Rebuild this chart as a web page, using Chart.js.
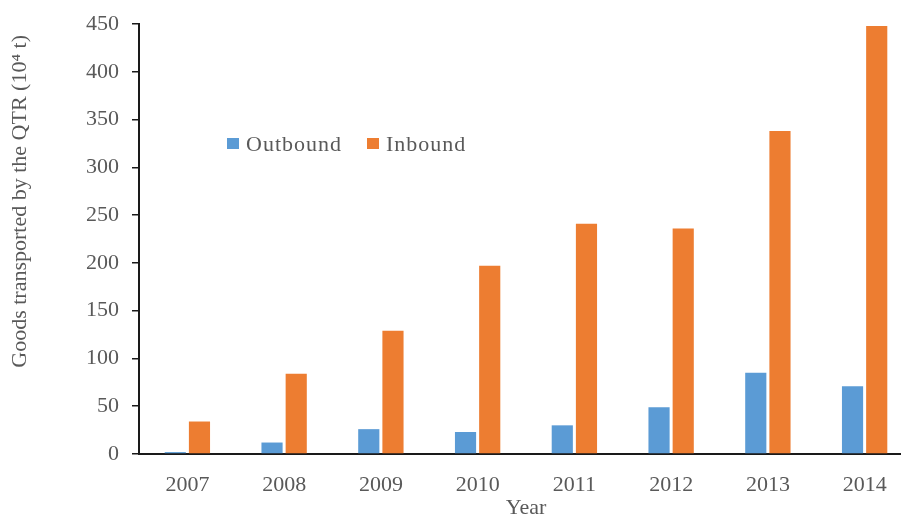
<!DOCTYPE html>
<html>
<head>
<meta charset="utf-8">
<script src="https://cdn.jsdelivr.net/npm/chart.js@4"></script>
<style>
  html, body { margin: 0; padding: 0; background: #fff; }
  #wrap { position: relative; width: 901px; height: 516px; overflow: hidden; }
  #legend { position: absolute; left: 227px; top: 131px; display: flex; gap: 25px; font: 22px/25px "Liberation Serif", serif; letter-spacing: 1px; color: #595959; }
  #legend span { display: flex; align-items: center; }
  #legend i { display: inline-block; width: 12px; height: 11px; margin-right: 7px; }
</style>
</head>
<body>
<div id="wrap">
  <canvas id="chart" width="913" height="516"></canvas>
  <div id="legend"></div>
</div>
<script>
  var YEARS = ['2007', '2008', '2009', '2010', '2011', '2012', '2013', '2014'];
  var OUTBOUND = [2, 12, 26, 23, 30, 49, 85, 71];
  var INBOUND = [34, 84, 129, 197, 241, 236, 338, 448];
  var SERIES = ['Outbound', 'Inbound'];
  var COLORS = ['#5B9BD5', '#ED7D31'];
  var Y_TITLE = 'Goods transported by the QTR (10\u2074 t)\u00a0\u00a0';
  var X_TITLE = 'Year';

  var FONT = {family: '"Liberation Serif", serif', size: 22, lineHeight: 1};
  var GREY = '#595959';
  var AXIS = '#1a1a1a';

  // Chart.js reserva 2x el padding de los ticks; el título compensa con padding negativo
  new Chart(document.getElementById('chart'), {
    type: 'bar',
    data: {
      labels: YEARS,
      datasets: [
        {label: SERIES[0], data: OUTBOUND, backgroundColor: COLORS[0], categoryPercentage: 0.5, barPercentage: 0.875},
        {label: SERIES[1], data: INBOUND, backgroundColor: COLORS[1], categoryPercentage: 0.5, barPercentage: 0.875}
      ]
    },
    options: {
      responsive: false,
      animation: false,
      layout: {padding: {top: 24, right: 0, left: 9, bottom: 0}},
      plugins: {legend: {display: false}, tooltip: {enabled: false}},
      scales: {
        x: {
          grid: {display: false, drawTicks: false},
          border: {color: AXIS, width: 2},
          ticks: {color: GREY, font: FONT, padding: 20},
          title: {display: true, text: X_TITLE, color: GREY, font: FONT, padding: {top: -19, bottom: -3}}
        },
        y: {
          min: 0, max: 450,
          grid: {drawOnChartArea: false, drawTicks: true, tickLength: 7, color: AXIS, lineWidth: 1.5},
          border: {color: AXIS, width: 2},
          ticks: {stepSize: 50, color: GREY, font: FONT, padding: 13},
          title: {display: true, text: Y_TITLE, align: 'end', color: GREY, font: FONT, padding: {top: 0, bottom: 42}}
        }
      }
    }
  });

  document.getElementById('legend').innerHTML = SERIES.map(function (name, i) {
    return '<span><i style="background:' + COLORS[i] + '"></i>' + name + '</span>';
  }).join('');
</script>
</body>
</html>
